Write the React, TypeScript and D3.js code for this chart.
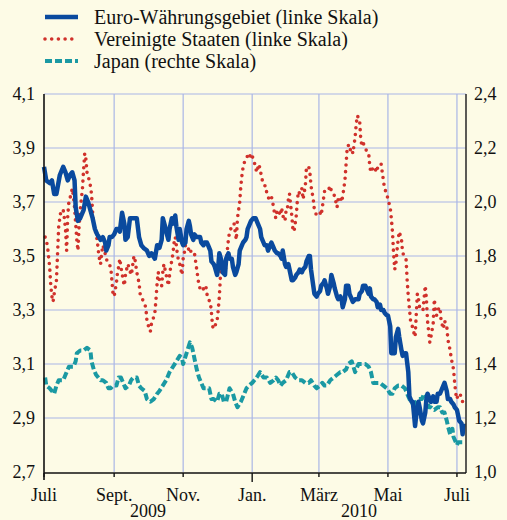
import React from "react";
import * as d3 from "d3";

// days after 1 July 2009, yield in %
const euro: [number, number][] = [
  [0,3.83],[2,3.78],[5,3.77],[7,3.78],[9,3.73],[11,3.73],[14,3.80],[17,3.83],[19,3.81],[21,3.78],[23,3.80],[25,3.81],[27,3.78],[28,3.68],[30,3.63],[32,3.64],[35,3.67],[37,3.72],[39,3.70],[41,3.67],[43,3.64],[45,3.60],[47,3.58],[50,3.56],[52,3.57],[54,3.55],[55,3.52],[57,3.54],[58,3.57],[60,3.57],[62,3.58],[64,3.60],[66,3.60],[67,3.59],[69,3.66],[71,3.62],[72,3.56],[74,3.57],[76,3.64],[78,3.64],[80,3.64],[82,3.64],[84,3.57],[86,3.54],[88,3.53],[91,3.52],[93,3.50],[95,3.51],[98,3.49],
  [100,3.54],[102,3.53],[104,3.56],[105,3.64],[107,3.61],[108,3.59],[110,3.56],[111,3.60],[113,3.64],[114,3.62],[116,3.65],[117,3.61],[119,3.56],[120,3.60],[122,3.55],[123,3.54],[125,3.55],[126,3.60],[128,3.63],[129,3.61],[130,3.58],[132,3.56],[133,3.58],[135,3.57],[136,3.57],[138,3.57],[139,3.55],[141,3.54],[142,3.55],[144,3.55],[145,3.54],[147,3.52],[148,3.48],[150,3.47],[151,3.46],[153,3.43],[154,3.46],[155,3.51],[157,3.48],[158,3.44],[160,3.43],[161,3.49],[163,3.51],[164,3.49],[166,3.49],[167,3.46],[169,3.43],[170,3.44],[172,3.47],[173,3.52],[175,3.54],[176,3.55],[178,3.56],[179,3.57],[180,3.60],[182,3.62],[183,3.63],[185,3.64],[187,3.64],[189,3.62],[191,3.60],[192,3.57],[194,3.55],[195,3.54],[197,3.54],[198,3.52],
  [200,3.54],[201,3.55],[203,3.53],[204,3.52],[206,3.51],[207,3.51],[209,3.50],[210,3.49],[211,3.52],[213,3.47],[214,3.46],[216,3.47],[217,3.45],[219,3.41],[220,3.41],[222,3.42],[223,3.43],[225,3.44],[226,3.45],[228,3.44],[229,3.45],[231,3.46],[232,3.48],[234,3.50],[235,3.50],[236,3.45],[238,3.39],[239,3.36],[241,3.35],[242,3.36],[244,3.37],[245,3.39],[247,3.40],[248,3.41],[250,3.38],[251,3.36],[253,3.39],[254,3.43],[256,3.40],[257,3.38],[259,3.35],[260,3.34],[262,3.35],[263,3.34],[264,3.31],[266,3.34],[267,3.39],[269,3.39],[270,3.36],[272,3.34],[273,3.33],[275,3.34],[276,3.34],[278,3.34],[279,3.36],[281,3.37],[282,3.39],[284,3.39],[285,3.38],[287,3.36],[288,3.38],[289,3.35],[291,3.34],[292,3.34],[294,3.33],[295,3.31],[297,3.32],[298,3.30],
  [300,3.30],[301,3.29],[303,3.28],[304,3.28],[306,3.24],[307,3.14],[309,3.14],[310,3.14],[311,3.20],[313,3.23],[314,3.20],[316,3.15],[317,3.13],[319,3.14],[320,3.14],[322,3.07],[323,2.98],[325,2.96],[326,2.96],[328,2.87],[329,2.91],[331,2.96],[332,2.94],[334,2.89],[335,2.88],[337,2.92],[338,2.97],[339,2.99],[341,2.97],[342,2.96],[344,2.98],[345,2.96],[347,2.96],[348,2.99],[350,2.99],[351,3.00],[353,3.02],[354,3.03],[356,3.00],[357,2.97],[359,2.97],[360,2.96],[362,2.95],[363,2.94],[365,2.93],[366,2.91],[367,2.89],[369,2.88],[370,2.84],[371,2.88],
];

const usa: [number, number][] = [
  [1,3.57],[3,3.54],[5,3.46],[6,3.39],[7,3.35],[8,3.33],[9,3.36],[11,3.41],[12,3.51],[13,3.61],[14,3.64],[15,3.67],[17,3.67],[18,3.64],[19,3.60],[20,3.52],[21,3.65],[22,3.70],[24,3.73],[25,3.75],[26,3.72],[27,3.68],[28,3.62],[29,3.56],[30,3.52],[31,3.61],[32,3.67],[34,3.75],[35,3.82],[36,3.88],[37,3.86],[38,3.81],[40,3.78],[41,3.76],[42,3.73],[43,3.66],[44,3.62],[45,3.60],[47,3.56],[48,3.52],[49,3.49],[50,3.47],[51,3.51],[52,3.54],[54,3.51],[55,3.49],[57,3.47],[59,3.46],[60,3.41],[61,3.36],[62,3.35],[64,3.40],[65,3.44],[66,3.46],[67,3.49],[68,3.46],[70,3.41],[71,3.39],[72,3.43],[73,3.45],[74,3.47],[75,3.46],[77,3.43],[78,3.45],[79,3.49],[80,3.50],[81,3.47],[82,3.44],[84,3.40],[85,3.36],[87,3.34],[88,3.33],[90,3.31],[91,3.26],[93,3.23],[94,3.22],[95,3.25],[96,3.26],[98,3.29],[99,3.34],
  [100,3.40],[101,3.44],[102,3.41],[104,3.39],[105,3.44],[106,3.47],[107,3.45],[108,3.43],[110,3.39],[111,3.43],[112,3.46],[114,3.51],[115,3.55],[116,3.57],[117,3.54],[118,3.50],[120,3.47],[121,3.45],[122,3.43],[123,3.49],[124,3.51],[125,3.54],[127,3.54],[128,3.52],[129,3.51],[130,3.52],[131,3.52],[133,3.51],[134,3.48],[135,3.45],[136,3.42],[137,3.39],[138,3.38],[140,3.37],[141,3.38],[142,3.38],[143,3.39],[144,3.36],[145,3.34],[147,3.33],[148,3.29],[149,3.24],[150,3.23],[151,3.24],[153,3.26],[154,3.30],[155,3.35],[156,3.43],[157,3.47],[158,3.46],[160,3.44],[161,3.47],[162,3.52],[163,3.56],[164,3.59],[165,3.60],[167,3.61],[168,3.62],[169,3.59],[170,3.56],[171,3.64],[173,3.70],[174,3.76],[175,3.80],[176,3.83],[178,3.86],[180,3.87],[181,3.86],[183,3.88],[185,3.86],[187,3.83],[188,3.81],[190,3.84],[191,3.82],[193,3.78],[195,3.76],[196,3.76],[197,3.73],[199,3.71],
  [200,3.72],[201,3.72],[203,3.68],[204,3.65],[205,3.64],[206,3.67],[207,3.67],[209,3.65],[210,3.68],[211,3.65],[213,3.63],[214,3.67],[215,3.67],[216,3.71],[217,3.73],[219,3.65],[220,3.60],[221,3.59],[223,3.65],[224,3.71],[225,3.74],[226,3.73],[228,3.75],[229,3.71],[231,3.76],[232,3.83],[234,3.83],[235,3.81],[236,3.76],[238,3.71],[239,3.67],[241,3.65],[242,3.65],[244,3.66],[245,3.65],[247,3.71],[248,3.74],[250,3.74],[251,3.74],[253,3.76],[254,3.74],[256,3.73],[257,3.72],[259,3.68],[260,3.71],[262,3.72],[263,3.70],[264,3.72],[266,3.78],[267,3.84],[268,3.90],[269,3.91],[270,3.89],[272,3.90],[273,3.88],[274,3.91],[275,3.94],[276,3.99],[277,4.02],[279,4.00],[280,3.93],[281,3.91],[282,3.92],[284,3.90],[285,3.89],[287,3.88],[288,3.83],[289,3.81],[291,3.83],[292,3.83],[294,3.81],[295,3.83],[297,3.83],[298,3.84],
  [300,3.78],[301,3.75],[303,3.73],[304,3.71],[306,3.68],[307,3.64],[308,3.59],[309,3.51],[310,3.45],[311,3.47],[312,3.52],[313,3.56],[314,3.59],[316,3.56],[317,3.51],[319,3.50],[320,3.49],[321,3.41],[322,3.35],[324,3.26],[325,3.25],[326,3.23],[328,3.20],[329,3.28],[330,3.36],[331,3.34],[332,3.31],[334,3.31],[335,3.30],[337,3.39],[338,3.34],[339,3.26],[340,3.22],[341,3.18],[342,3.20],[344,3.25],[345,3.34],[346,3.30],[347,3.28],[348,3.30],[350,3.31],[351,3.26],[353,3.23],[354,3.26],[356,3.24],[357,3.19],[359,3.15],[360,3.12],[362,3.08],[363,3.03],[364,2.99],[365,2.97],[366,2.99],[367,2.99],[369,2.98],[370,2.96],
];

const japan: [number, number][] = [
  [1,1.35],[2,1.32],[5,1.31],[7,1.30],[9,1.29],[11,1.32],[13,1.34],[15,1.34],[17,1.34],[19,1.36],[22,1.39],[24,1.39],[26,1.39],[28,1.41],[29,1.44],[32,1.45],[35,1.45],[38,1.46],[41,1.45],[42,1.41],[44,1.38],[46,1.36],[48,1.35],[50,1.34],[52,1.34],[55,1.33],[57,1.31],[59,1.31],[61,1.32],[64,1.32],[66,1.35],[68,1.35],[70,1.33],[72,1.31],[75,1.32],[77,1.34],[79,1.35],[82,1.35],[84,1.32],[86,1.31],[89,1.30],[91,1.27],[94,1.26],[97,1.27],
  [100,1.29],[102,1.30],[105,1.32],[108,1.34],[111,1.37],[114,1.39],[117,1.41],[120,1.43],[122,1.42],[123,1.40],[126,1.44],[129,1.48],[131,1.46],[133,1.42],[135,1.38],[137,1.35],[139,1.33],[141,1.31],[144,1.31],[146,1.31],[148,1.27],[150,1.27],[153,1.26],[155,1.29],[157,1.29],[159,1.26],[161,1.26],[164,1.31],[167,1.29],[169,1.26],[171,1.24],[174,1.26],[176,1.28],[179,1.31],[181,1.32],[184,1.33],[186,1.34],[188,1.35],[191,1.37],[194,1.35],[197,1.35],
  [200,1.33],[203,1.34],[205,1.35],[207,1.34],[209,1.32],[211,1.33],[214,1.34],[217,1.37],[219,1.37],[222,1.35],[225,1.34],[228,1.34],[231,1.33],[234,1.33],[236,1.34],[239,1.32],[241,1.31],[244,1.32],[246,1.33],[248,1.32],[250,1.32],[253,1.34],[256,1.35],[259,1.36],[262,1.37],[264,1.37],[267,1.38],[269,1.40],[272,1.41],[275,1.37],[278,1.40],[281,1.40],[284,1.40],[287,1.39],[289,1.37],[291,1.33],[294,1.33],[297,1.33],
  [300,1.32],[303,1.31],[306,1.29],[308,1.29],[310,1.31],[313,1.32],[316,1.32],[319,1.31],[321,1.29],[323,1.27],[325,1.26],[328,1.23],[329,1.26],[331,1.27],[334,1.27],[336,1.29],[338,1.28],[340,1.24],[342,1.24],[345,1.23],[348,1.24],[350,1.24],[352,1.22],[354,1.22],[356,1.19],[357,1.17],[359,1.14],[361,1.16],[362,1.13],[365,1.10],[366,1.11],[368,1.11],[370,1.11],
];

const startDate = "2009-07-01";
const endDate = "2010-07-09";
const leftTicks = [2.7, 2.9, 3.1, 3.3, 3.5, 3.7, 3.9, 4.1];
const rightTicks = [1.0, 1.2, 1.4, 1.6, 1.8, 2.0, 2.2, 2.4];
const monthTicks = ["2009-07-01", "2009-09-01", "2009-11-01", "2010-01-01", "2010-03-01", "2010-05-01", "2010-07-01"];
const monthLabels = ["Juli", "Sept.", "Nov.", "Jan.", "März", "Mai", "Juli"];
const yearLabels = ["2009", "2010"];
const legendLabels = ["Euro-Währungsgebiet (linke Skala)", "Vereinigte Staaten (linke Skala)", "Japan (rechte Skala)"];

const W = 507;
const H = 520;
const m = { top: 94, left: 44, right: 466, bottom: 472 };
const bg = "#fdfbe6";
const gridColor = "#a9b6e6";
const euroColor = "#0a4a9e";
const usaColor = "#d0312b";
const japanColor = "#1a99a3";
const font = "Liberation Serif, DejaVu Serif, serif";

const parse = (s: string) => new Date(s + "T00:00:00Z");
const t0 = parse(startDate);
const toDate = (d: number) => new Date(t0.getTime() + d * 864e5);

export default function App() {
  const x = d3.scaleUtc().domain([t0, parse(endDate)]).range([m.left, m.right]);
  const yL = d3.scaleLinear().domain([2.7, 4.1]).range([m.bottom, m.top]);
  const yR = d3.scaleLinear().domain([1.0, 2.4]).range([m.bottom, m.top]);
  const fmt = d3.formatLocale({ decimal: ",", thousands: ".", grouping: [3], currency: ["", "€"] }).format(".1f");

  const lineL = d3.line<[number, number]>().x(d => x(toDate(d[0]))).y(d => yL(d[1]));
  const lineR = d3.line<[number, number]>().x(d => x(toDate(d[0]))).y(d => yR(d[1]));

  const ticks = monthTicks.map(parse);
  const jan = parse("2010-01-01");
  const yearPos = [(x(t0) + x(jan)) / 2, (x(jan) + x(parse(endDate))) / 2];

  const legendY = [17, 39, 61];
  const legendStyles = [
    { stroke: euroColor, width: 4.5, dash: undefined as string | undefined, cap: "butt" },
    { stroke: usaColor, width: 3.6, dash: "0 6.7", cap: "round" },
    { stroke: japanColor, width: 4, dash: "7 3", cap: "butt" },
  ];

  return (
    <svg width={W} height={H} style={{ position: "absolute", left: 0, top: 0, background: bg, fontFamily: font }}>
      <rect width={W} height={H} fill={bg} />
      {/* legend */}
      {legendLabels.map((l, i) => (
        <g key={l}>
          <line x1={45} x2={78} y1={legendY[i]} y2={legendY[i]} stroke={legendStyles[i].stroke}
            strokeWidth={legendStyles[i].width} strokeDasharray={legendStyles[i].dash}
            strokeLinecap={legendStyles[i].cap as any} />
          <text x={94} y={legendY[i] + 6.5} fontSize={20} fill="#111" style={{ fontFamily: font }}>{l}</text>
        </g>
      ))}
      {/* grid */}
      {leftTicks.slice(1).map(v => (
        <line key={"h" + v} x1={m.left} x2={m.right} y1={yL(v)} y2={yL(v)} stroke={gridColor} strokeWidth={1.2} />
      ))}
      {ticks.slice(1).map((d, i) => (
        <line key={"v" + i} x1={x(d)} x2={x(d)} y1={m.top} y2={m.bottom} stroke={gridColor} strokeWidth={1.2} />
      ))}
      {/* series */}
      <path d={lineR(japan) ?? ""} fill="none" stroke={japanColor} strokeWidth={4} strokeDasharray="7 3" strokeLinejoin="round" />
      <path d={lineL(usa) ?? ""} fill="none" stroke={usaColor} strokeWidth={3.6} strokeDasharray="0 6.7" strokeLinecap="round" />
      <path d={lineL(euro) ?? ""} fill="none" stroke={euroColor} strokeWidth={4.5} strokeLinejoin="round" />
      {/* axes */}
      <line x1={m.left} x2={m.left} y1={m.top} y2={m.bottom + 8} stroke="#111" strokeWidth={1.6} />
      <line x1={m.right} x2={m.right} y1={m.top} y2={m.bottom + 1} stroke="#333" strokeWidth={1.6} />
      <line x1={m.left} x2={m.right} y1={m.bottom + 1} y2={m.bottom + 1} stroke="#111" strokeWidth={1.6} />
      {ticks.map((d, i) => (
        <line key={"t" + i} x1={x(d)} x2={x(d)} y1={m.bottom + 1} y2={m.bottom + (d.getTime() === jan.getTime() ? 10 : 5)}
          stroke="#111" strokeWidth={1.4} />
      ))}
      {leftTicks.map(v => (
        <text key={"l" + v} x={35} y={yL(v) + 6} fontSize={18} textAnchor="end" fill="#111" style={{ fontFamily: font }}>{fmt(v)}</text>
      ))}
      {rightTicks.map(v => (
        <text key={"r" + v} x={474} y={yR(v) + 6} fontSize={18} fill="#111" style={{ fontFamily: font }}>{fmt(v)}</text>
      ))}
      {ticks.map((d, i) => (
        <text key={"m" + i} x={x(d)} y={501} fontSize={18} textAnchor="middle" fill="#111" style={{ fontFamily: font }}>{monthLabels[i]}</text>
      ))}
      {yearLabels.map((l, i) => (
        <text key={l} x={yearPos[i]} y={517} fontSize={18} textAnchor="middle" fill="#111" style={{ fontFamily: font }}>{l}</text>
      ))}
    </svg>
  );
}
